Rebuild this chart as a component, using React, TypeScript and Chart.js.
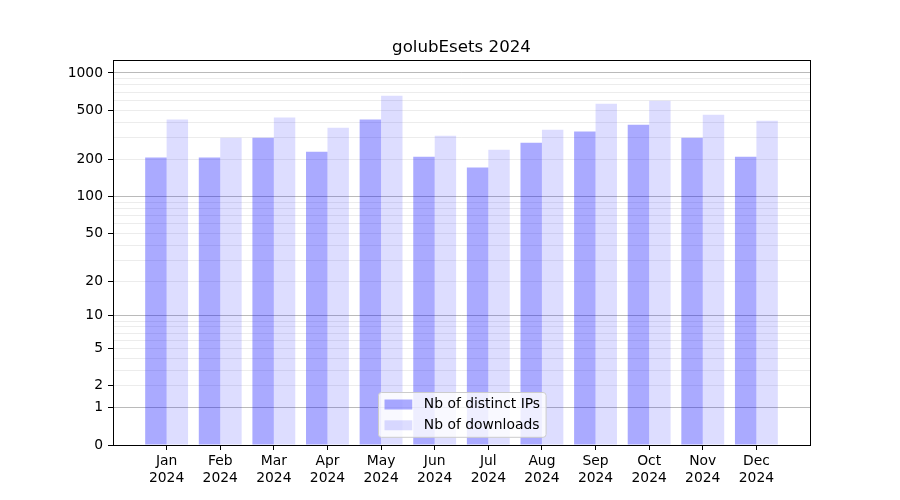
import React, { useEffect, useRef } from 'react';
import { Chart, registerables, LinearScale } from 'chart.js';

Chart.register(...registerables);

// ---------- data ----------
const chartTitle = 'golubEsets 2024';
const months = ['Jan', 'Feb', 'Mar', 'Apr', 'May', 'Jun', 'Jul', 'Aug', 'Sep', 'Oct', 'Nov', 'Dec'];
const yearLabel = '2024';
const seriesLabels = ['Nb of distinct IPs', 'Nb of downloads'];
const distinctIPs = [207, 207, 300, 231, 420, 210, 172, 273, 336, 382, 300, 210];
const downloads = [420, 300, 436, 361, 656, 311, 240, 348, 565, 597, 460, 412];
const yLabeledTicks = [0, 1, 2, 5, 10, 20, 50, 100, 200, 500, 1000];
const yMajorGrid = [1, 10, 100, 1000];
const yMinorGrid = [2, 3, 4, 5, 6, 7, 8, 9, 20, 30, 40, 50, 60, 70, 80, 90, 200, 300, 400, 500, 600, 700, 800, 900];
const yAxisMax = 1273;

// ---------- styles ----------
const FONT = '"DejaVu Sans"';
const TICK_FS = 13.89;
const TITLE_FS = 16.67;
const barColors = ['rgba(0,0,255,0.333)', 'rgba(0,0,255,0.133)'];

const tf = (v: number) => Math.log10(1 + v);

class Log1pScale extends LinearScale {
  static id = 'log1p';
  getPixelForValue(value: number) {
    if (value === null || value === undefined || isNaN(value)) return NaN;
    const a = tf(this.min), b = tf(this.max);
    return this.getPixelForDecimal((tf(value) - a) / (b - a));
  }
  getValueForPixel(pixel: number) {
    const a = tf(this.min), b = tf(this.max);
    const d = this.getDecimalForPixel(pixel);
    return Math.pow(10, a + d * (b - a)) - 1;
  }
}
Chart.register(Log1pScale as any);

const allYTicks = Array.from(new Set([...yLabeledTicks, ...yMajorGrid, ...yMinorGrid])).sort((a, b) => a - b);

const framePlugin = {
  id: 'frame',
  afterDatasetsDraw(chart: any) {
    const { ctx, chartArea: a } = chart;
    ctx.save();
    ctx.strokeStyle = '#000';
    ctx.lineWidth = 1;
    ctx.strokeRect(a.left + 0.5, a.top + 0.5, a.right - a.left, a.bottom - a.top);
    ctx.restore();
  },
};

const titlePlugin = {
  id: 'mplTitle',
  afterDraw(chart: any) {
    const { ctx, chartArea: a } = chart;
    ctx.save();
    ctx.font = `${TITLE_FS}px ${FONT}`;
    ctx.fillStyle = '#000';
    ctx.textAlign = 'center';
    ctx.textBaseline = 'alphabetic';
    ctx.fillText(chartTitle, (a.left + a.right) / 2, a.top - 8);
    ctx.restore();
  },
};

const legendPlugin = {
  id: 'mplLegend',
  afterDraw(chart: any) {
    const { ctx, chartArea: a } = chart;
    ctx.save();
    ctx.font = `${TICK_FS}px ${FONT}`;
    const textW = Math.max(...seriesLabels.map((l) => ctx.measureText(l).width));
    const pad = 6, handleW = 27.8, handleH = 10, gap = 11.5, rowH = 20.8, vpad = 12;
    const boxW = pad + handleW + gap + textW + pad;
    const boxH = vpad * 2 + rowH;
    const cx = (a.left + a.right) / 2;
    const x0 = Math.round(cx - boxW / 2) + 0.5;
    const y1 = a.bottom - 8;
    const y0 = Math.round(y1 - boxH) + 0.5;
    ctx.beginPath();
    (ctx as any).roundRect(x0, y0, boxW, boxH, 3);
    ctx.fillStyle = 'rgba(255,255,255,0.8)';
    ctx.fill();
    ctx.strokeStyle = '#cccccc';
    ctx.lineWidth = 1;
    ctx.stroke();
    chart.data.datasets.forEach((ds: any, i: number) => {
      const cy = y0 + vpad + i * rowH;
      ctx.fillStyle = ds.backgroundColor;
      ctx.fillRect(x0 + pad, cy - handleH / 2, handleW, handleH);
      ctx.fillStyle = '#000';
      ctx.textAlign = 'left';
      ctx.textBaseline = 'middle';
      ctx.fillText(ds.label, x0 + pad + handleW + gap, cy);
    });
    ctx.restore();
  },
};

export default function App() {
  const ref = useRef<HTMLCanvasElement>(null);
  useEffect(() => {
    Chart.defaults.font.family = FONT;
    const chart = new Chart(ref.current as HTMLCanvasElement, {
      type: 'bar',
      data: {
        datasets: [
          {
            label: seriesLabels[0],
            data: months.map((_, i) => ({ x: i, y: distinctIPs[i] })),
            backgroundColor: barColors[0],
            borderWidth: 0,
            categoryPercentage: 0.8,
            barPercentage: 1.0,
          },
          {
            label: seriesLabels[1],
            data: months.map((_, i) => ({ x: i, y: downloads[i] })),
            backgroundColor: barColors[1],
            borderWidth: 0,
            categoryPercentage: 0.8,
            barPercentage: 1.0,
          },
        ],
      } as any,
      options: {
        animation: false,
        responsive: false,
        devicePixelRatio: 1,
        layout: { padding: { top: 60, right: 90, left: 0, bottom: 0 } },
        plugins: { legend: { display: false }, title: { display: false }, tooltip: { enabled: false } },
        scales: {
          x: {
            type: 'linear',
            min: -1,
            max: 12,
            offset: false,
            afterBuildTicks: (scale: any) => {
              scale.ticks = months.map((_, i) => ({ value: i }));
            },
            afterFit: (scale: any) => {
              scale.height = 55;
            },
            ticks: {
              autoSkip: false,
              maxRotation: 0,
              padding: 3,
              color: '#000',
              font: { size: TICK_FS, family: FONT, lineHeight: 1.2 },
              callback: (v: any) => [months[v], yearLabel],
            },
            grid: {
              display: true,
              drawOnChartArea: false,
              offset: false,
              tickLength: 5,
              tickColor: '#000',
              tickWidth: 1,
              color: 'rgba(0,0,0,0)',
            },
            border: { display: false },
          },
          y: {
            type: 'log1p' as any,
            min: 0,
            max: yAxisMax,
            afterBuildTicks: (scale: any) => {
              scale.ticks = allYTicks.map((v) => ({ value: v }));
            },
            afterFit: (scale: any) => {
              scale.width = 113;
            },
            ticks: {
              autoSkip: false,
              padding: 5,
              color: '#000',
              font: { size: TICK_FS, family: FONT },
              callback: (v: any) => (yLabeledTicks.includes(Math.round(v)) ? String(Math.round(v)) : ''),
            },
            grid: {
              display: true,
              drawOnChartArea: true,
              tickLength: 5,
              lineWidth: 1,
              color: (ctx: any) => {
                const v = Math.round(ctx.tick ? ctx.tick.value : 0);
                if (v === 0) return 'rgba(0,0,0,0)';
                return yMajorGrid.includes(v) ? 'rgba(0,0,0,0.27)' : 'rgba(0,0,0,0.075)';
              },
              tickColor: (ctx: any) => {
                const v = Math.round(ctx.tick ? ctx.tick.value : 0);
                return yLabeledTicks.includes(v) ? '#000' : 'rgba(0,0,0,0)';
              },
            },
            border: { display: false },
          },
        },
      } as any,
      plugins: [framePlugin, titlePlugin, legendPlugin],
    });
    return () => chart.destroy();
  }, []);
  return (
    <div style={{ position: 'fixed', left: 0, top: 0, width: 900, height: 500, background: '#fff' }}>
      <canvas ref={ref} width={900} height={500} style={{ display: 'block', width: 900, height: 500 }} />
    </div>
  );
}
